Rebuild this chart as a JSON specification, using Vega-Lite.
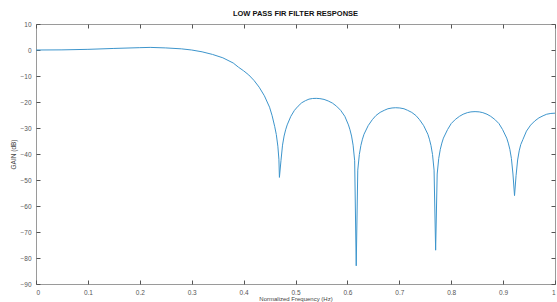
{
  "$schema": "https://vega.github.io/schema/vega-lite/v6.json",
  "width": 519,
  "height": 260,
  "autosize": {"type": "none"},
  "padding": {"left": 36, "top": 24, "right": 2, "bottom": 18},
  "background": "white",
  "title": {"text": "LOW PASS FIR FILTER RESPONSE", "fontSize": 7.5, "font": "Liberation Sans", "fontWeight": "bold", "color": "#111", "offset": 4},
  "config": {"view": {"stroke": "#9a9a9a", "strokeWidth": 1}},
  "data": {"values": [
    {"f": 0, "g": 0}, {"f": 0.05, "g": 0.05}, {"f": 0.1, "g": 0.25}, {"f": 0.15, "g": 0.6},
    {"f": 0.2, "g": 0.9}, {"f": 0.22, "g": 1.0}, {"f": 0.25, "g": 0.8}, {"f": 0.28, "g": 0.45},
    {"f": 0.3, "g": 0.0}, {"f": 0.32, "g": -0.7}, {"f": 0.34, "g": -1.7}, {"f": 0.36, "g": -3.0},
    {"f": 0.38, "g": -5.0}, {"f": 0.39, "g": -6.6}, {"f": 0.4, "g": -8.0}, {"f": 0.41, "g": -9.6},
    {"f": 0.42, "g": -11.7}, {"f": 0.43, "g": -14.3}, {"f": 0.44, "g": -17.6}, {"f": 0.45, "g": -22.0},
    {"f": 0.455, "g": -25.3}, {"f": 0.46, "g": -29.5}, {"f": 0.463, "g": -32.5}, {"f": 0.466, "g": -37},
    {"f": 0.468, "g": -42}, {"f": 0.469, "g": -49},
    {"f": 0.472, "g": -42.6}, {"f": 0.475, "g": -36.6}, {"f": 0.478, "g": -33.1}, {"f": 0.481, "g": -30.7},
    {"f": 0.484, "g": -28.8}, {"f": 0.491, "g": -25.5}, {"f": 0.498, "g": -23.2}, {"f": 0.505, "g": -21.6},
    {"f": 0.512, "g": -20.3}, {"f": 0.519, "g": -19.5}, {"f": 0.526, "g": -18.9}, {"f": 0.533, "g": -18.65},
    {"f": 0.54, "g": -18.6}, {"f": 0.547, "g": -18.7}, {"f": 0.555, "g": -19.0}, {"f": 0.563, "g": -19.6},
    {"f": 0.571, "g": -20.4}, {"f": 0.579, "g": -21.6}, {"f": 0.587, "g": -23.2}, {"f": 0.595, "g": -25.5},
    {"f": 0.602, "g": -28.8}, {"f": 0.605, "g": -30.7}, {"f": 0.608, "g": -33.1}, {"f": 0.611, "g": -36.6},
    {"f": 0.614, "g": -42.6}, {"f": 0.617, "g": -83},
    {"f": 0.62, "g": -46.2}, {"f": 0.623, "g": -40.2}, {"f": 0.626, "g": -36.7}, {"f": 0.629, "g": -34.3},
    {"f": 0.632, "g": -32.4}, {"f": 0.64, "g": -29.1}, {"f": 0.648, "g": -26.8}, {"f": 0.655, "g": -25.2},
    {"f": 0.663, "g": -24.0}, {"f": 0.671, "g": -23.2}, {"f": 0.678, "g": -22.6}, {"f": 0.686, "g": -22.3},
    {"f": 0.693, "g": -22.2}, {"f": 0.701, "g": -22.3}, {"f": 0.709, "g": -22.6}, {"f": 0.716, "g": -23.2},
    {"f": 0.724, "g": -24.0}, {"f": 0.732, "g": -25.2}, {"f": 0.739, "g": -26.8}, {"f": 0.747, "g": -29.1},
    {"f": 0.755, "g": -32.4}, {"f": 0.758, "g": -34.3}, {"f": 0.761, "g": -36.7}, {"f": 0.764, "g": -40.2},
    {"f": 0.767, "g": -46.2}, {"f": 0.77, "g": -77},
    {"f": 0.773, "g": -47.7}, {"f": 0.776, "g": -41.7}, {"f": 0.779, "g": -38.2}, {"f": 0.782, "g": -35.8},
    {"f": 0.785, "g": -33.9}, {"f": 0.793, "g": -30.6}, {"f": 0.8, "g": -28.3}, {"f": 0.808, "g": -26.7},
    {"f": 0.816, "g": -25.5}, {"f": 0.823, "g": -24.7}, {"f": 0.831, "g": -24.1}, {"f": 0.838, "g": -23.8},
    {"f": 0.846, "g": -23.7}, {"f": 0.854, "g": -23.8}, {"f": 0.861, "g": -24.1}, {"f": 0.869, "g": -24.7},
    {"f": 0.876, "g": -25.5}, {"f": 0.884, "g": -26.7}, {"f": 0.892, "g": -28.3}, {"f": 0.899, "g": -30.6},
    {"f": 0.907, "g": -33.9}, {"f": 0.91, "g": -35.8}, {"f": 0.913, "g": -38.2}, {"f": 0.916, "g": -41.7},
    {"f": 0.919, "g": -47.7}, {"f": 0.922, "g": -56},
    {"f": 0.925, "g": -48.3}, {"f": 0.928, "g": -42.3}, {"f": 0.931, "g": -38.8}, {"f": 0.934, "g": -36.4},
    {"f": 0.938, "g": -34.5}, {"f": 0.945, "g": -31.2}, {"f": 0.953, "g": -28.9}, {"f": 0.961, "g": -27.3},
    {"f": 0.969, "g": -26.1}, {"f": 0.977, "g": -25.3}, {"f": 0.984, "g": -24.7}, {"f": 0.992, "g": -24.4},
    {"f": 1.0, "g": -24.3}
  ]},
  "resolve": {"axis": {"x": "independent", "y": "independent"}},
  "layer": [
    {
      "mark": {"type": "line", "color": "#3d95cc", "strokeWidth": 1, "clip": true},
      "encoding": {
        "x": {
          "field": "f", "type": "quantitative",
          "scale": {"domain": [0, 1], "nice": false, "zero": false},
          "axis": {
            "title": "Normalized Frequency (Hz)", "values": [0, 0.1, 0.2, 0.3, 0.4, 0.5, 0.6, 0.7, 0.8, 0.9, 1],
            "format": ".1~f",
            "grid": false, "domain": false, "tickSize": -4, "tickColor": "#555", "labelPadding": 9,
            "labelFont": "Liberation Sans", "labelFontSize": 6.5, "labelColor": "#555",
            "titleFont": "Liberation Sans", "titleFontSize": 6, "titleFontWeight": "normal", "titleColor": "#444", "titlePadding": 0
          }
        },
        "y": {
          "field": "g", "type": "quantitative",
          "scale": {"domain": [-90, 10], "nice": false, "zero": false},
          "axis": {
            "title": "GAIN (dB)", "values": [10, 0, -10, -20, -30, -40, -50, -60, -70, -80, -90],
            "grid": false, "domain": false, "tickSize": -4, "tickColor": "#555", "labelPadding": 9,
            "labelFont": "Liberation Sans", "labelFontSize": 6.5, "labelColor": "#555",
            "titleFont": "Liberation Sans", "titleFontSize": 6.5, "titleFontWeight": "normal", "titleColor": "#444", "titlePadding": 3
          }
        }
      }
    },
    {
      "mark": {"type": "line", "strokeOpacity": 0},
      "encoding": {
        "x": {
          "field": "f", "type": "quantitative",
          "scale": {"domain": [0, 1], "nice": false, "zero": false},
          "axis": {"orient": "top", "title": null, "labels": false, "values": [0, 0.1, 0.2, 0.3, 0.4, 0.5, 0.6, 0.7, 0.8, 0.9, 1],
            "grid": false, "domain": false, "tickSize": -4, "tickColor": "#555"}
        },
        "y": {
          "field": "g", "type": "quantitative",
          "scale": {"domain": [-90, 10], "nice": false, "zero": false},
          "axis": {"orient": "right", "title": null, "labels": false, "values": [10, 0, -10, -20, -30, -40, -50, -60, -70, -80, -90],
            "grid": false, "domain": false, "tickSize": -4, "tickColor": "#555"}
        }
      }
    }
  ]
}
